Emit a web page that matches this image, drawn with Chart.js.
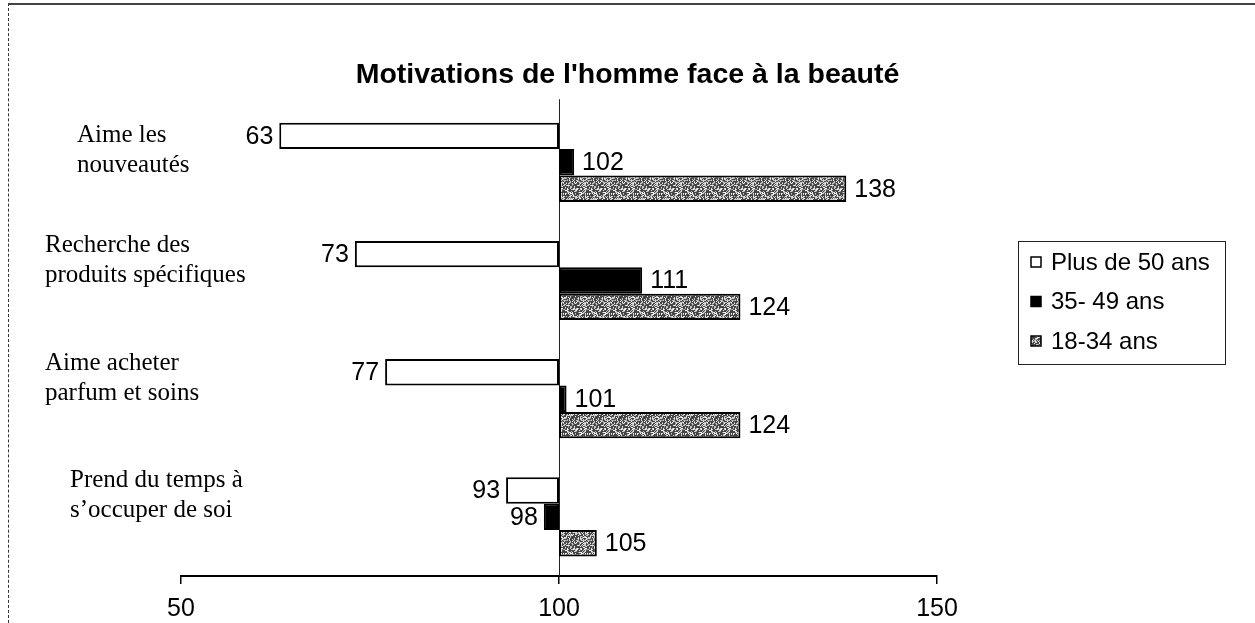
<!DOCTYPE html>
<html><head><meta charset="utf-8">
<script src="https://cdn.jsdelivr.net/npm/chart.js@4/dist/chart.umd.min.js"></script>
<style>
html,body{margin:0;padding:0;background:#fff;}
#wrap{position:relative;width:1255px;height:623px;overflow:hidden;}
#frame{position:absolute;left:8px;top:3px;right:-5px;bottom:-5px;border-top:2px solid #444;border-left:1px dashed #333;pointer-events:none;}
</style></head><body>
<div id="wrap"><canvas id="c" width="1255" height="623"></canvas><div id="frame"></div></div>
<script>
// ---- data ----
const categories = [
  ["Aime les", "nouveautés"],
  ["Recherche des", "produits spécifiques"],
  ["Aime acheter", "parfum et soins"],
  ["Prend du temps à", "s’occuper de soi"]
];
const seriesNames = ["Plus de 50 ans", "35- 49 ans", "18-34 ans"];
const plus50 = [63, 73, 77, 93];
const age35_49 = [102, 111, 101, 98];
const age18_34 = [138, 124, 124, 105];
const baseline = 100;
const xTicks = [50, 100, 150];
const titleText = "Motivations de l'homme face à la beauté";

// ---- layout / style ----
const LABEL_X = [77, 45, 45, 70];
const LABEL_DY = [-12, -20, -20, -21];
const LEGEND_BOX = {x: 1018, y: 241, w: 207, h: 123};

const canvas = document.getElementById('c');
const ctx0 = canvas.getContext('2d');
function hash(x, y) {
  let h = (x * 374761393 + y * 668265263) >>> 0;
  h = ((h ^ (h >>> 13)) * 1274126177) >>> 0;
  return (h ^ (h >>> 16)) % 100;
}
function makePattern() {
  const n = 24;
  const c = document.createElement('canvas');
  c.width = n; c.height = n;
  const g = c.getContext('2d');
  g.fillStyle = '#c8c8c8'; g.fillRect(0, 0, n, n);
  for (let y = 0; y < n; y++) for (let x = 0; x < n; x++) {
    const k = hash(x, y);
    if (k < 11) { g.fillStyle = '#454545'; g.fillRect(x, y, 1, 1); }
    else if (k < 24) { g.fillStyle = '#8e8e8e'; g.fillRect(x, y, 1, 1); }
    else if (k < 50) { g.fillStyle = '#f4f4f4'; g.fillRect(x, y, 1, 1); }
  }
  return ctx0.createPattern(c, 'repeat');
}
const grayPattern = makePattern();

Chart.defaults.font.family = '"Liberation Sans", Arial, sans-serif';
Chart.defaults.color = '#000';

const toRange = arr => arr.map(v => [baseline, v]);
const fills = ['#ffffff', '#000000', grayPattern];

const axisLinePlugin = {
  id: 'axisLine',
  beforeDatasetsDraw(chart) {
    const {ctx, chartArea} = chart;
    const x = Math.round(chart.scales.x.getPixelForValue(baseline)) + 0.5;
    ctx.save();
    ctx.strokeStyle = '#222'; ctx.lineWidth = 1;
    ctx.beginPath(); ctx.moveTo(x, chartArea.top - 4); ctx.lineTo(x, chartArea.bottom); ctx.stroke();
    ctx.restore();
  }
};

const valueLabelPlugin = {
  id: 'valueLabels',
  afterDatasetsDraw(chart) {
    const ctx = chart.ctx, xs = chart.scales.x;
    ctx.save();
    ctx.font = '25px "Liberation Sans", Arial, sans-serif';
    ctx.fillStyle = '#000';
    ctx.textBaseline = 'middle';
    chart.data.datasets.forEach((ds, di) => {
      chart.getDatasetMeta(di).data.forEach((el, i) => {
        const v = ds.data[i][1];
        const px = xs.getPixelForValue(v);
        const left = v < baseline;
        ctx.textAlign = left ? 'right' : 'left';
        ctx.fillText(String(v), px + (left ? -6 : 8), el.y + 1);
      });
    });
    ctx.restore();
  }
};

const catLabelPlugin = {
  id: 'catLabels',
  afterDraw(chart) {
    const ctx = chart.ctx, ys = chart.scales.y;
    ctx.save();
    ctx.font = '25px "Liberation Serif", "Times New Roman", serif';
    ctx.fillStyle = '#000';
    ctx.textAlign = 'left';
    ctx.textBaseline = 'middle';
    const lh = 30;
    chart.data.labels.forEach((lines, i) => {
      const cy = ys.getPixelForTick(i) + LABEL_DY[i];
      const n = lines.length;
      lines.forEach((t, j) => ctx.fillText(t, LABEL_X[i], cy + (j - (n - 1) / 2) * lh));
    });
    ctx.restore();
  }
};

const legendPlugin = {
  id: 'boxLegend',
  afterDraw(chart) {
    const ctx = chart.ctx, b = LEGEND_BOX;
    ctx.save();
    ctx.strokeStyle = '#222'; ctx.lineWidth = 1;
    ctx.strokeRect(b.x + 0.5, b.y + 0.5, b.w, b.h);
    ctx.font = '24px "Liberation Sans", Arial, sans-serif';
    ctx.textBaseline = 'middle'; ctx.textAlign = 'left';
    chart.data.datasets.forEach((ds, i) => {
      const cy = b.y + 21 + i * 39.5;
      const mx = b.x + 13, ms = 10;
      ctx.fillStyle = ds.backgroundColor;
      ctx.fillRect(mx, cy - ms / 2, ms, ms);
      ctx.strokeStyle = '#000'; ctx.lineWidth = 1.5;
      ctx.strokeRect(mx, cy - ms / 2, ms, ms);
      ctx.fillStyle = '#000';
      ctx.fillText(ds.label, mx + 20, cy + 1);
    });
    ctx.restore();
  }
};

new Chart(canvas, {
  type: 'bar',
  data: {
    labels: categories,
    datasets: [plus50, age35_49, age18_34].map((arr, i) => ({
      label: seriesNames[i],
      data: toRange(arr),
      backgroundColor: fills[i],
      borderColor: '#000',
      borderWidth: 2,
      borderSkipped: false,
      categoryPercentage: 0.67,
      barPercentage: 1.0
    }))
  },
  options: {
    indexAxis: 'y',
    responsive: false,
    animation: false,
    layout: {padding: 0},
    plugins: {
      legend: {display: false},
      tooltip: {enabled: false},
      title: {
        display: true, text: titleText, color: '#000',
        font: {size: 28.5, weight: 'bold'},
        padding: {top: 58, bottom: 11}
      }
    },
    scales: {
      x: {
        min: 50, max: 150,
        afterBuildTicks: s => { s.ticks = xTicks.map(v => ({value: v})); },
        ticks: {font: {size: 25}, padding: 10, maxRotation: 0, autoSkip: false, color: '#000'},
        grid: {drawOnChartArea: false, drawTicks: true, tickLength: 8, color: '#000', lineWidth: 1.5},
        border: {display: true, color: '#000', width: 2},
        afterFit: s => { s.height = 47; }
      },
      y: {
        ticks: {display: false},
        grid: {display: false},
        border: {display: false},
        afterFit: s => { s.width = 181; }
      },
      yRight: {
        type: 'category',
        position: 'right',
        ticks: {display: false},
        grid: {display: false},
        border: {display: false},
        afterFit: s => { s.width = 318; }
      }
    }
  },
  plugins: [axisLinePlugin, valueLabelPlugin, catLabelPlugin, legendPlugin]
});
</script>
</body></html>
